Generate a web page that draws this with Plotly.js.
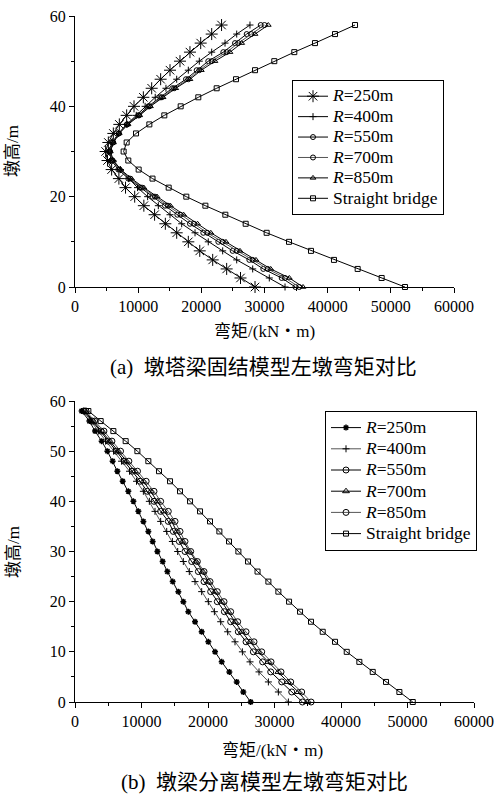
<!DOCTYPE html>
<html>
<head>
<meta charset="utf-8">
<script src="https://cdn.plot.ly/plotly-3.0.1.min.js"></script>
<style>html,body{margin:0;padding:0;background:#fff;}#chart{width:497px;height:795px;}</style>
</head>
<body>
<div id="chart"></div>
<script>
// Pier heights (m)
const heights = [0,2,4,6,8,10,12,14,16,18,20,22,24,26,28,30,32,34,36,38,40,42,44,46,48,50,52,54,56,58];

// (a) Tower-beam fixed model, left pier moment (kN·m)
const a_R250 = [28500,26200,24010,21800,19750,17940,16100,14300,12600,10900,9450,8000,6950,5800,5150,4850,5280,6070,7020,8180,9340,10820,12140,13560,15040,16620,18200,19900,21640,23200];
const a_R400 = [33250,30760,28130,25600,23380,21100,19000,16890,15040,13190,11500,9900,8500,7200,6000,5300,5900,6900,8200,9700,11100,12700,14400,16100,17940,19680,21640,23750,25600,27700];
const a_R550 = [34900,32720,29810,27600,24960,22690,20310,18200,16200,14250,12240,10290,8440,6860,5810,5500,6000,6900,8200,10000,11600,13500,15400,17570,19260,21100,23480,25330,27180,29400];
const a_R700 = [35500,33250,30500,28130,25600,23380,20940,18840,16700,14700,12650,10600,8700,7050,5950,5550,6050,6950,8300,10150,11800,13750,15700,17940,19680,21640,24010,25850,27900,30000];
const a_R850 = [36100,33930,30980,28650,26120,23900,21500,19400,17200,15100,13000,10900,8950,7250,6100,5600,6100,7000,8400,10250,11950,13950,15950,18200,20000,22160,24540,26390,28500,30600];
const a_Straight = [52240,48550,44750,41000,37360,33880,30340,27020,23800,20640,17620,14830,12270,10080,8440,7700,8180,9660,11770,14140,16730,19520,22430,25490,28500,31550,34720,37990,41160,44330];

// (b) Pier-beam separated model, left pier moment (kN·m)
const b_R250 = [26420,25310,24320,23210,22060,21060,20050,19050,18050,17040,16290,15540,14690,13890,13180,12390,11680,11030,10280,9530,8780,8020,7170,6370,5660,4870,4010,3010,2160,1000];
const b_R400 = [32090,30580,29080,27670,26320,25170,24060,22960,21910,20960,20050,19050,18050,17190,16290,15440,14640,13790,12880,12030,11180,10280,9250,8200,7000,5800,4600,3500,2400,1250];
const b_R550 = [34200,32590,31090,29430,28220,26820,25720,24560,23410,22460,21400,20400,19400,18550,17550,16540,15690,14790,14030,12880,11880,10880,9800,8600,7400,6200,5000,3900,2600,1400];
const b_R700 = [34900,33590,31990,30580,29080,27570,26320,25070,24060,23060,22060,21060,20050,19200,18200,17190,16190,15290,14540,13390,12380,11390,10300,9000,7750,6500,5250,4100,2750,1500];
const b_R850 = [35500,34090,32440,30980,29480,28080,26920,25720,24460,23410,22410,21400,20300,19400,18400,17400,16540,15790,15040,14030,12880,11880,10700,9400,8100,6850,5550,4350,2950,1650];
const b_Straight = [50790,48780,46770,44770,42760,40860,39100,37250,35490,33840,32190,30580,29080,27450,26020,24570,23160,21710,20300,18800,17300,15790,14290,12630,11030,9380,7620,5770,3860,2010];

const seriesNames = ['<i>R</i>=250m','<i>R</i>=400m','<i>R</i>=550m','<i>R</i>=700m','<i>R</i>=850m','Straight bridge'];
const xTitle = '弯矩/(kN・m)';
const yTitle = '墩高/m';
const captionA = '(a)  墩塔梁固结模型左墩弯矩对比';
const captionB = '(b)  墩梁分离模型左墩弯矩对比';

const FONT = 'Liberation Serif, Times New Roman, Noto Sans CJK SC, serif';

function legName(n) { return '<span style="font-size:17.5px">' + n + '</span>'; }

function tr(x, name, xa, ya, leg, sym, msize, lcolor, mlw) {
  return {
    type: 'scatter', mode: 'lines+markers', x: x, y: heights, name: legName(name),
    xaxis: xa, yaxis: ya, legend: leg, cliponaxis: false,
    line: {color: lcolor, width: 1},
    marker: {symbol: sym, size: msize, color: '#000', line: {color: '#000', width: mlw}}
  };
}

const traces = [
  tr(a_R250, seriesNames[0], 'x', 'y', 'legend', 'asterisk-open', 10, '#000', 1),
  tr(a_R400, seriesNames[1], 'x', 'y', 'legend', 'cross-thin-open', 5, '#000', 1),
  tr(a_R550, seriesNames[2], 'x', 'y', 'legend', 'circle-open', 5, '#000', 1),
  tr(a_R700, seriesNames[3], 'x', 'y', 'legend', 'circle-open', 5, '#555', 1),
  tr(a_R850, seriesNames[4], 'x', 'y', 'legend', 'triangle-up-open', 5, '#000', 1),
  tr(a_Straight, seriesNames[5], 'x', 'y', 'legend', 'square-open', 5, '#000', 1),
  tr(b_R250, seriesNames[0], 'x2', 'y2', 'legend2', 'asterisk-open', 5, '#000', 1.5),
  tr(b_R400, seriesNames[1], 'x2', 'y2', 'legend2', 'cross-thin-open', 5, '#555', 1),
  tr(b_R550, seriesNames[2], 'x2', 'y2', 'legend2', 'circle-open', 6, '#000', 1),
  tr(b_R700, seriesNames[3], 'x2', 'y2', 'legend2', 'triangle-up-open', 6, '#000', 1),
  tr(b_R850, seriesNames[4], 'x2', 'y2', 'legend2', 'circle-open', 6, '#555', 1),
  tr(b_Straight, seriesNames[5], 'x2', 'y2', 'legend2', 'square-open', 5, '#000', 1)
];

const W = 497, H = 795;
function px(x) { return x / W; }
function py(y) { return 1 - y / H; }

const axisCommon = {
  showgrid: false, zeroline: false, showline: true, linecolor: '#000', linewidth: 1,
  ticks: 'outside', ticklen: 5, tickwidth: 1, tickcolor: '#000',
  tickfont: {family: FONT, size: 16, color: '#000'}, mirror: false
};

const layout = {
  width: W, height: H, margin: {l: 0, r: 0, t: 0, b: 0},
  paper_bgcolor: '#fff', plot_bgcolor: '#fff',
  font: {family: FONT, color: '#000'},
  xaxis: Object.assign({}, axisCommon, {
    domain: [px(75), px(454)], anchor: 'y', range: [0, 60000], dtick: 10000, tickformat: 'd',
    minor: {dtick: 5000, ticks: 'outside', ticklen: 3, tickcolor: '#000'}
  }),
  yaxis: Object.assign({}, axisCommon, {
    domain: [py(287), py(16)], anchor: 'x', range: [0, 60], dtick: 20,
    minor: {dtick: 10, ticks: 'outside', ticklen: 3, tickcolor: '#000'}
  }),
  xaxis2: Object.assign({}, axisCommon, {
    domain: [px(75), px(474)], anchor: 'y2', range: [0, 60000], dtick: 10000, tickformat: 'd',
    minor: {dtick: 5000, ticks: 'outside', ticklen: 3, tickcolor: '#000'}
  }),
  yaxis2: Object.assign({}, axisCommon, {
    domain: [py(702), py(401)], anchor: 'x2', range: [0, 60], dtick: 10,
    minor: {dtick: 5, ticks: 'outside', ticklen: 3, tickcolor: '#000'}
  }),
  legend: {
    x: px(292), y: py(80), xanchor: 'left', yanchor: 'top', xref: 'paper', yref: 'paper',
    bgcolor: '#fff', bordercolor: '#000', borderwidth: 1,
    font: {family: FONT, size: 13.4, color: '#000'}, tracegroupgap: 0
  },
  legend2: {
    x: px(325), y: py(411), xanchor: 'left', yanchor: 'top', xref: 'paper', yref: 'paper',
    bgcolor: '#fff', bordercolor: '#000', borderwidth: 1,
    font: {family: FONT, size: 14, color: '#000'}, tracegroupgap: 0
  },
  annotations: [
    {text: xTitle, x: px(264), y: py(331), xref: 'paper', yref: 'paper', showarrow: false,
     xanchor: 'center', yanchor: 'middle', font: {family: FONT, size: 17, color: '#000'}},
    {text: captionA, x: px(263), y: py(367), xref: 'paper', yref: 'paper', showarrow: false,
     xanchor: 'center', yanchor: 'middle', font: {family: FONT, size: 21, color: '#000'}},
    {text: yTitle, x: px(13), y: py(151), xref: 'paper', yref: 'paper', showarrow: false, textangle: -90,
     xanchor: 'center', yanchor: 'middle', font: {family: FONT, size: 17, color: '#000'}},
    {text: xTitle, x: px(272), y: py(750), xref: 'paper', yref: 'paper', showarrow: false,
     xanchor: 'center', yanchor: 'middle', font: {family: FONT, size: 17, color: '#000'}},
    {text: captionB, x: px(264), y: py(782), xref: 'paper', yref: 'paper', showarrow: false,
     xanchor: 'center', yanchor: 'middle', font: {family: FONT, size: 21, color: '#000'}},
    {text: yTitle, x: px(13), y: py(552), xref: 'paper', yref: 'paper', showarrow: false, textangle: -90,
     xanchor: 'center', yanchor: 'middle', font: {family: FONT, size: 17, color: '#000'}}
  ]
};

Plotly.newPlot('chart', traces, layout, {displayModeBar: false, staticPlot: true});
</script>
</body>
</html>
